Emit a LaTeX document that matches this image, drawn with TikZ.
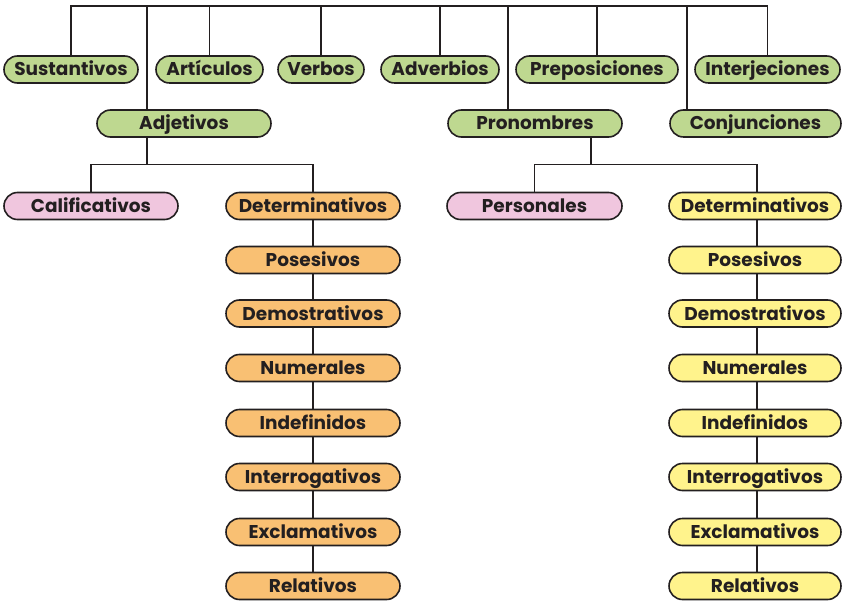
\documentclass[tikz,border=0pt]{standalone}
\usepackage{fontspec}
\setmainfont{Poppins}
\definecolor{gr}{RGB}{190,216,144}
\definecolor{pk}{RGB}{240,198,222}
\definecolor{orn}{RGB}{249,192,115}
\definecolor{yl}{RGB}{255,243,140}
\definecolor{ink}{RGB}{35,31,32}
\tikzset{
  pill/.style={draw=ink, line width=1.6pt, rounded corners=13.5pt, minimum height=27pt,
    inner sep=0pt, font=\bfseries\fontsize{18.5}{20}\selectfont, text=ink, anchor=center,
    text height=13pt, text depth=0pt},
  gbox/.style={pill, fill=gr},
  pbox/.style={pill, fill=pk},
  obox/.style={pill, fill=orn},
  ybox/.style={pill, fill=yl},
  conn/.style={draw=ink, line width=1.6pt}
}
\begin{document}
\begin{tikzpicture}[x=1pt,y=-1pt]
\useasboundingbox (0,0) rectangle (842,601);
% top row
\node[gbox, minimum width=134pt] (sus) at (71,69.5) {Sustantivos};
\node[gbox, minimum width=107pt] (art) at (209.5,69.5) {Artículos};
\node[gbox, minimum width=86pt] (ver) at (321,69.5) {Verbos};
\node[gbox, minimum width=118pt] (adv) at (440,69.5) {Adverbios};
\node[gbox, minimum width=162pt] (pre) at (597,69.5) {Preposiciones};
\node[gbox, minimum width=145pt] (int) at (767.5,69.5) {Interjeciones};
% second row
\node[gbox, minimum width=174pt] (adj) at (184,123.5) {Adjetivos};
\node[gbox, minimum width=174pt] (pro) at (535,123.5) {Pronombres};
\node[gbox, minimum width=171pt] (con) at (755.5,123.5) {Conjunciones};
% third row
\node[pbox, minimum width=174pt] (cal) at (91,206) {Calificativos};
\node[pbox, minimum width=175pt] (per) at (534.5,206) {Personales};
% columns
\foreach \n/\t/\y in {0/Determinativos/206, 1/Posesivos/260, 2/Demostrativos/313.5, 3/Numerales/368, 4/Indefinidos/423, 5/Interrogativos/477, 6/Exclamativos/532, 7/Relativos/586}{
  \node[obox, minimum width=174pt] (o\n) at (313,\y) {\t};
  \node[ybox, minimum width=172pt] (y\n) at (755,\y) {\t};
}
% connector coordinates
\coordinate (T) at (0,6);
\coordinate (B) at (0,164.5);
\coordinate (aj) at (147,0);
\coordinate (pj) at (508,0);
\coordinate (cj) at (687,0);
\coordinate (pb) at (591,0);
\coordinate (ob) at (313,0);
\coordinate (yb) at (757,0);
% top bar
\draw[conn] (sus.north) -- (sus.north |- T) -- (int.north |- T) -- (int.north);
\foreach \n in {art,ver,adv,pre}{\draw[conn] (\n.north) -- (\n.north |- T);}
\draw[conn] (aj |- T) -- (aj |- adj.north);
\draw[conn] (pj |- T) -- (pj |- pro.north);
\draw[conn] (cj |- T) -- (cj |- con.north);
% adjetivos branch
\draw[conn] (aj |- adj.south) -- (aj |- B);
\draw[conn] (cal.north) -- (cal.north |- B) -- (ob |- B) -- (ob |- o0.north);
% pronombres branch
\draw[conn] (pb |- pro.south) -- (pb |- B);
\draw[conn] (per.north) -- (per.north |- B) -- (yb |- B) -- (yb |- y0.north);
% columns
\foreach \a/\b in {0/1,1/2,2/3,3/4,4/5,5/6,6/7}{
  \draw[conn] (o\a.south) -- (o\b.north);
  \draw[conn] (yb |- y\a.south) -- (yb |- y\b.north);
}
\end{tikzpicture}
\end{document}
